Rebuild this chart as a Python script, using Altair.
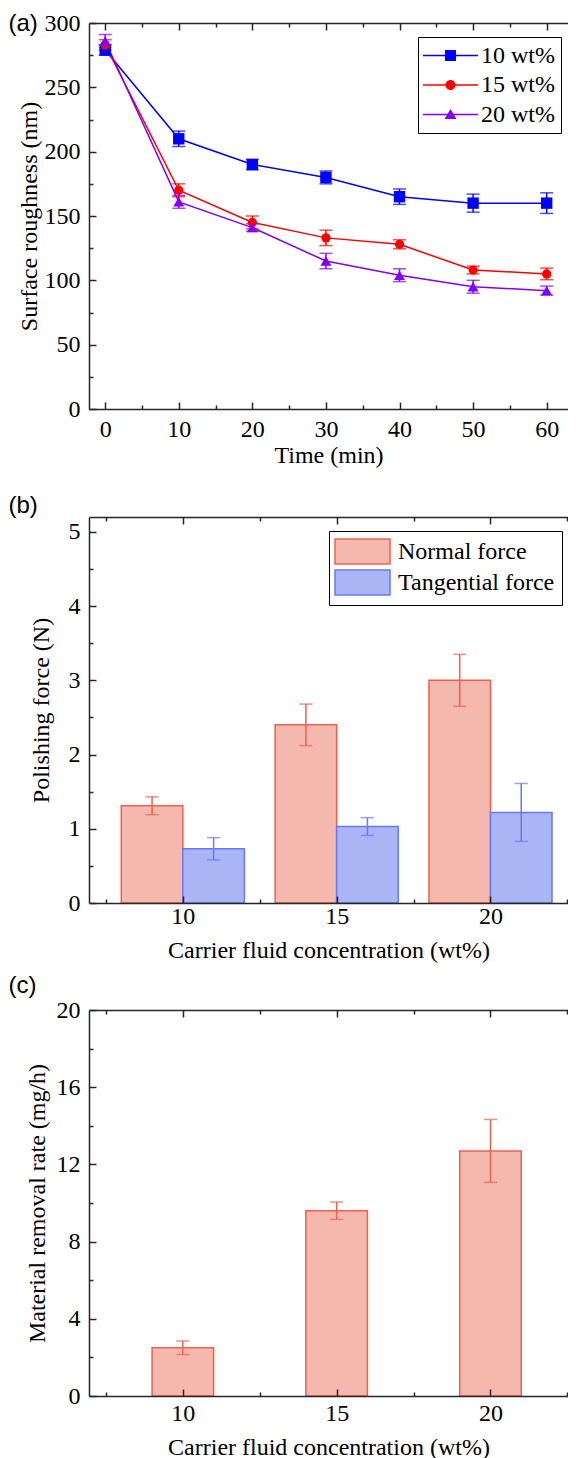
import altair as alt
import pandas as pd

SERIF = "Liberation Serif"
SANS = "Liberation Sans"
AXC = "#262626"

# ---------------- data ----------------
times = [0, 10, 20, 30, 40, 50, 60]
series = ["10 wt%", "15 wt%", "20 wt%"]
rough_10 = [279, 210, 190, 180, 165, 160, 160]
rough_10_err = [4, 6, 4, 5, 6, 7, 8]
rough_15 = [283, 170, 145, 133, 128, 108, 105]
rough_15_err = [4, 5, 5, 6, 3.5, 3, 4.5]
rough_20 = [286, 161, 141, 115, 104, 95, 92]
rough_20_err = [5, 5, 3, 6, 5, 5, 3.5]
line_colors = ["#0000FF", "#FF0000", "#8000FF"]

conc = [10, 15, 20]
force_types = ["Normal force", "Tangential force"]
normal_force = [1.31, 2.40, 3.00]
normal_err = [0.12, 0.28, 0.35]
tangential_force = [0.73, 1.03, 1.22]
tangential_err = [0.15, 0.12, 0.39]
bar_fills = ["#F5B8AF", "#AAB5F6"]
bar_strokes = ["#F0614D", "#6679F6"]

mrr = [2.5, 9.6, 12.7]
mrr_err = [0.35, 0.45, 1.63]

# ---------------- tables ----------------
rows = []
for s, vals, errs in zip(series, [rough_10, rough_15, rough_20],
                         [rough_10_err, rough_15_err, rough_20_err]):
    for t, v, e in zip(times, vals, errs):
        rows.append({"time": t, "series": s, "value": v, "err": e})
df_a = pd.DataFrame(rows)

rows = []
for ft, vals, errs in zip(force_types, [normal_force, tangential_force],
                          [normal_err, tangential_err]):
    for c, v, e in zip(conc, vals, errs):
        rows.append({"conc": c, "type": ft, "value": v, "err": e})
df_b = pd.DataFrame(rows)

df_c = pd.DataFrame({"conc": conc, "value": mrr, "err": mrr_err})

W, H = 479, 386

# ---------------- helpers ----------------
def guide_layers(data, xf, yf, xsc, ysc, xmaj, xmin, ymaj, ymin,
                 xtitle, ytitle, ytitle_pad, xlabel_pad, xtitle_pad,
                 panel_label, panel_label_y):
    common = dict(grid=False, domainColor=AXC, domainWidth=1.5,
                  tickColor=AXC, tickWidth=1.5, zindex=1,
                  labelFont=SERIF, labelFontSize=24, labelColor="black",
                  titleFont=SERIF, titleFontSize=24, titleFontWeight="normal",
                  titleColor="black")
    x_main = alt.Axis(orient="bottom", values=xmaj, ticks=False, tickSize=0,
                      domain=True, labels=True, title=xtitle,
                      labelPadding=xlabel_pad, titlePadding=xtitle_pad,
                      labelFlush=False, **common)
    x_maj = alt.Axis(orient="bottom", values=xmaj, ticks=True, tickSize=7,
                     offset=-7, domain=False, labels=False, title=None, **common)
    x_min = alt.Axis(orient="bottom", values=xmin, ticks=True, tickSize=4,
                     offset=-4, domain=False, labels=False, title=None, **common)
    # top edge: carries the panel label "(a)", "(b)", "(c)" as its title
    t_common = dict(common)
    t_common.update(titleFont=SANS)
    t_main = alt.Axis(orient="top", values=xmaj, ticks=False, tickSize=0,
                      domain=True, labels=False, title=panel_label,
                      titleX=-81, titleY=panel_label_y, titleAlign="left",
                      titleBaseline="middle", titleAngle=0, **t_common)
    t_maj = alt.Axis(orient="top", values=xmaj, ticks=True, tickSize=7,
                     offset=-7, domain=False, labels=False, title=None, **common)
    t_min = alt.Axis(orient="top", values=xmin, ticks=True, tickSize=4,
                     offset=-4, domain=False, labels=False, title=None, **common)
    y_main = alt.Axis(orient="left", values=ymaj, ticks=False, tickSize=0,
                      domain=True, labels=True, title=ytitle, labelPadding=9,
                      titlePadding=ytitle_pad, labelFlush=False, **common)
    y_maj = alt.Axis(orient="left", values=ymaj, ticks=True, tickSize=7,
                     offset=-7, domain=False, labels=False, title=None, **common)
    y_min = alt.Axis(orient="left", values=ymin, ticks=True, tickSize=4,
                     offset=-4, domain=False, labels=False, title=None, **common)
    pairs = [(x_main, y_main), (x_maj, y_maj), (x_min, y_min),
             (t_main, None), (t_maj, None), (t_min, None)]
    out = []
    for xa, ya in pairs:
        out.append(
            alt.Chart(data).mark_point(opacity=0).encode(
                x=alt.X(f"{xf}:Q", scale=xsc, axis=xa),
                y=alt.Y(f"{yf}:Q", scale=ysc, axis=ya),
            )
        )
    return out


def legend_params(x, y, pad, sym_off, lab_off, row_pad, **extra):
    return alt.Legend(orient="none", legendX=x, legendY=y, title=None,
                      symbolSize=625, symbolOffset=sym_off, labelOffset=lab_off,
                      padding=pad, rowPadding=row_pad, strokeColor="black",
                      fillColor="white", labelFont=SERIF, labelFontSize=24,
                      labelColor="black", symbolOpacity=1, **extra)

# ---------------- panel (a) ----------------
xs_a = alt.Scale(domain=[-2.2, 62.9], nice=False, zero=False)
ys_a = alt.Scale(domain=[0, 300], nice=False, zero=False)
stroke_a = alt.Scale(domain=series, range=line_colors)
fill_a = alt.Scale(domain=series, range=line_colors)

base_a = alt.Chart(df_a).transform_calculate(
    lo="datum.value - datum.err", hi="datum.value + datum.err"
)
X_A = alt.X("time:Q", scale=xs_a, axis=None)

lines_a = base_a.mark_line(strokeWidth=1.5).encode(
    x=X_A, y=alt.Y("value:Q", scale=ys_a, axis=None),
    stroke=alt.Stroke("series:N", scale=stroke_a, legend=None),
)
err_a = base_a.mark_rule(strokeWidth=1.5).encode(
    x=X_A, y=alt.Y("lo:Q", scale=ys_a, axis=None), y2="hi:Q",
    stroke=alt.Stroke("series:N", scale=stroke_a, legend=None),
)
caps_a = []
for f in ["lo", "hi"]:
    caps_a.append(
        base_a.mark_tick(orient="horizontal", size=13, thickness=1.5).encode(
            x=X_A, y=alt.Y(f"{f}:Q", scale=ys_a, axis=None),
            fill=alt.Fill("series:N", scale=fill_a, legend=None),
        )
    )
marker_shapes = ["square", "circle", "triangle-up"]
marker_sizes = [130, 85, 120]
pts_a = []
for s, shp, sz in zip(series, marker_shapes, marker_sizes):
    pts_a.append(
        base_a.transform_filter(alt.datum.series == s).mark_point(
            shape=shp, filled=True, size=sz, opacity=1
        ).encode(
            x=X_A, y=alt.Y("value:Q", scale=ys_a, axis=None),
            fill=alt.Fill("series:N", scale=fill_a, legend=None),
        )
    )

# legend symbols: line segment through the marker (unit = 12.5 px)
LINE = "M-2.2,-0.06H2.2V0.06H-2.2Z"
leg_paths = [
    LINE + "M-0.44,-0.44H0.44V0.44H-0.44Z",
    LINE + "M0.4,0A0.4,0.4,0,1,1,-0.4,0A0.4,0.4,0,1,1,0.4,0Z",
    LINE + "M0,-0.45L0.48,0.36H-0.48Z",
]
leg_a = dict(x=329, y=14, pad=6, sym_off=14, lab_off=18, row_pad=4.5,
             symbolStrokeWidth=0)
# legend-only layer: its points sit far outside the plot and are clipped away
legend_a = base_a.transform_calculate(off="datum.value + 1000").mark_point(
    filled=True, clip=True
).encode(
    x=X_A, y=alt.Y("off:Q", scale=ys_a, axis=None),
    color=alt.Color("series:N", scale=alt.Scale(domain=series, range=line_colors),
                    legend=legend_params(**leg_a)),
    shape=alt.Shape("series:N", scale=alt.Scale(domain=series, range=leg_paths),
                    legend=legend_params(**leg_a)),
)

guides_a = guide_layers(df_a, "time", "value", xs_a, ys_a,
                        times, [5, 15, 25, 35, 45, 55],
                        [0, 50, 100, 150, 200, 250, 300],
                        [25, 75, 125, 175, 225, 275],
                        "Time (min)", "Surface roughness (nm)", 3, 8, 2,
                        "(a)", 0)

panel_a = alt.layer(
    legend_a, *guides_a, lines_a, err_a, *caps_a, *pts_a
).resolve_axis(x="independent", y="independent").properties(width=W, height=H)

# ---------------- panel (b) ----------------
xs_b = alt.Scale(domain=[6.95, 22.52], nice=False, zero=False)
ys_b = alt.Scale(domain=[0, 5.2], nice=False, zero=False)
fill_b = alt.Scale(domain=force_types, range=bar_fills)
stroke_b = alt.Scale(domain=force_types, range=bar_strokes)

RECT = "M-2.2,-1H2.2V1H-2.2Z"
leg_b = dict(x=240, y=14, pad=7, sym_off=13, lab_off=22, row_pad=0,
             symbolType=RECT, symbolStrokeWidth=1.5)
base_b = alt.Chart(df_b).transform_calculate(
    x1="datum.conc + (datum.type == 'Normal force' ? -2 : 0)",
    x2="datum.conc + (datum.type == 'Normal force' ? 0 : 2)",
    xm="datum.conc + (datum.type == 'Normal force' ? -1 : 1)",
    lo="datum.value - datum.err",
    hi="datum.value + datum.err",
)
bars_b = base_b.mark_bar(strokeWidth=1.5).encode(
    x=alt.X("x1:Q", scale=xs_b, axis=None),
    x2="x2:Q",
    y=alt.Y("value:Q", scale=ys_b, axis=None),
    y2=alt.datum(0),
    fill=alt.Fill("type:N", scale=fill_b, legend=legend_params(**leg_b)),
    stroke=alt.Stroke("type:N", scale=stroke_b, legend=legend_params(**leg_b)),
)
err_b = base_b.mark_rule(strokeWidth=1.5).encode(
    x=alt.X("xm:Q", scale=xs_b, axis=None),
    y=alt.Y("lo:Q", scale=ys_b, axis=None),
    y2="hi:Q",
    stroke=alt.Stroke("type:N", scale=stroke_b, legend=None),
)
caps_b = []
for f in ["lo", "hi"]:
    caps_b.append(
        base_b.mark_tick(orient="horizontal", size=13, thickness=1.5).encode(
            x=alt.X("xm:Q", scale=xs_b, axis=None),
            y=alt.Y(f"{f}:Q", scale=ys_b, axis=None),
            color=alt.Color("type:N", scale=stroke_b, legend=None),
        )
    )
guides_b = guide_layers(df_b, "conc", "value", xs_b, ys_b,
                        conc, [7.5, 12.5, 17.5, 22.5],
                        [0, 1, 2, 3, 4, 5], [0.5, 1.5, 2.5, 3.5, 4.5],
                        "Carrier fluid concentration (wt%)",
                        "Polishing force (N)", 15, 1, 10, "(b)", -12)
panel_b = alt.layer(
    bars_b, err_b, *caps_b, *guides_b
).resolve_axis(x="independent", y="independent").properties(width=W, height=H)

# ---------------- panel (c) ----------------
xs_c = alt.Scale(domain=[6.95, 22.52], nice=False, zero=False)
ys_c = alt.Scale(domain=[0, 20], nice=False, zero=False)
base_c = alt.Chart(df_c).transform_calculate(
    x1="datum.conc - 1", x2="datum.conc + 1",
    lo="datum.value - datum.err", hi="datum.value + datum.err",
)
bars_c = base_c.mark_bar(strokeWidth=1.5, fill=bar_fills[0],
                         stroke=bar_strokes[0]).encode(
    x=alt.X("x1:Q", scale=xs_c, axis=None),
    x2="x2:Q",
    y=alt.Y("value:Q", scale=ys_c, axis=None),
    y2=alt.datum(0),
)
err_c = base_c.mark_rule(strokeWidth=1.5, color=bar_strokes[0]).encode(
    x=alt.X("conc:Q", scale=xs_c, axis=None),
    y=alt.Y("lo:Q", scale=ys_c, axis=None),
    y2="hi:Q",
)
caps_c = []
for f in ["lo", "hi"]:
    caps_c.append(
        base_c.mark_tick(orient="horizontal", size=13, thickness=1.5,
                         color=bar_strokes[0]).encode(
            x=alt.X("conc:Q", scale=xs_c, axis=None),
            y=alt.Y(f"{f}:Q", scale=ys_c, axis=None),
        )
    )
guides_c = guide_layers(df_c, "conc", "value", xs_c, ys_c,
                        conc, [7.5, 12.5, 17.5, 22.5],
                        [0, 4, 8, 12, 16, 20], [2, 6, 10, 14, 18],
                        "Carrier fluid concentration (wt%)",
                        "Material removal rate (mg/h)", 7, 5, 10, "(c)", -25)
panel_c = alt.layer(
    bars_c, err_c, *caps_c, *guides_c
).resolve_axis(x="independent", y="independent").properties(width=W, height=H)

RES = dict(color="independent", fill="independent", stroke="independent",
           shape="independent", x="independent", y="independent")
LRES = dict(color="independent", fill="independent", stroke="independent",
            shape="independent")

top_two = alt.vconcat(panel_a, panel_b, spacing=26).resolve_scale(
    **RES).resolve_legend(**LRES)
chart = alt.vconcat(top_two, panel_c, spacing=11).resolve_scale(
    **RES).resolve_legend(**LRES).properties(
    padding={"left": 0, "top": 3, "right": 0, "bottom": 0}
).configure_view(stroke=None).configure_axis(
    labelFont=SERIF, labelFontSize=24, labelColor="black",
    titleFont=SERIF, titleFontSize=24, titleFontWeight="normal",
    titleColor="black",
).configure_legend(labelColor="black", labelFont=SERIF, labelFontSize=24)

chart.save("out.html", embed_options={"renderer": "svg", "actions": False})
